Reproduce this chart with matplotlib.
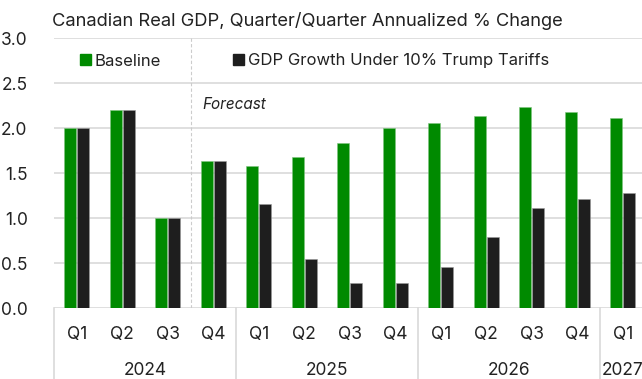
import matplotlib
matplotlib.use("Agg")
import matplotlib.pyplot as plt
from matplotlib.patches import Patch
import matplotlib.transforms as mtransforms
import numpy as np

plt.rcParams['font.family'] = ['Inter', 'DejaVu Sans']

quarters = ["Q1", "Q2", "Q3", "Q4", "Q1", "Q2", "Q3", "Q4", "Q1", "Q2", "Q3", "Q4", "Q1"]
years = ["2024", "2025", "2026", "2027"]
year_counts = [4, 4, 4, 1]
baseline = [2.00, 2.20, 1.00, 1.64, 1.58, 1.68, 1.84, 2.00, 2.06, 2.14, 2.24, 2.18, 2.11]
tariffs = [2.00, 2.20, 1.00, 1.64, 1.16, 0.55, 0.28, 0.28, 0.46, 0.79, 1.11, 1.22, 1.28]
yticks = [0.0, 0.5, 1.0, 1.5, 2.0, 2.5, 3.0]

W, H = 642, 379
fig = plt.figure(figsize=(W / 100, H / 100), dpi=100)
left, right, bottom, top = 54, 645.5, 308.3, 38.3
ax = fig.add_axes([left / W, 1 - bottom / H, (right - left) / W, (bottom - top) / H])

green = "#008a00"
dark = "#1e1e1e"
grid_c = "#d9d9d9"
txt_c = "#222222"
x = np.arange(len(quarters))
bw = 0.265
ax.bar(x - 0.145, baseline, bw, color=green, edgecolor="#7fc47f", linewidth=0.4, zorder=3)
ax.bar(x + 0.145, tariffs, bw, color=dark, edgecolor="#9a9a9a", linewidth=0.4, zorder=3)

ax.set_xlim(-0.5, len(quarters) - 0.5)
ax.set_ylim(0, 3.0)
ax.set_yticks(yticks)
ax.set_yticklabels([f"{v:.1f}" for v in yticks])
ax.yaxis.grid(True, color=grid_c, linewidth=1.2, zorder=0)
ax.set_axisbelow(True)
for s in ax.spines.values():
    s.set_visible(False)
ax.tick_params(axis='y', length=0, pad=19, labelsize=12.5, labelcolor=txt_c)
ax.set_xticks(x)
ax.set_xticklabels(quarters)
ax.tick_params(axis='x', length=0, pad=13, labelsize=12.5, labelcolor=txt_c)

# Forecast divider
ax.axvline(2.5, color="#cccccc", linestyle=(0, (3, 2)), linewidth=0.8, zorder=1)
ax.text(2.77, 2.26, "Forecast", fontsize=11, style='italic', color=txt_c, va='center', ha='left')

# group separators & year labels
trans = mtransforms.blended_transform_factory(ax.transData, ax.transAxes)
bottom_ax = -(H - bottom) / (bottom - top) - 0.02
start = -0.5
for yr, n in zip(years, year_counts):
    ax.plot([start, start], [0, bottom_ax], transform=trans, color=grid_c, linewidth=1.2, clip_on=False)
    ax.text(start + n / 2, -0.232, yr, transform=trans, ha='center', va='center', fontsize=12.5, color=txt_c)
    start += n

# title
fig.text(52 / W, 1 - 21.5 / H, "Canadian Real GDP, Quarter/Quarter Annualized % Change",
         fontsize=13.2, color=txt_c, ha='left', va='center')

# legend
handles = [Patch(color=green, label="Baseline"), Patch(color=dark, label="GDP Growth Under 10% Trump Tariffs")]
leg = fig.legend(handles=handles, loc='center left', bbox_to_anchor=(80 / W, 1 - 61 / H), ncol=2, frameon=False,
                 fontsize=12, handlelength=0.65, handleheight=0.65, handletextpad=0.25, columnspacing=4.3,
                 borderaxespad=0, borderpad=0)
for t in leg.get_texts():
    t.set_color(txt_c)

fig.savefig("out.png", dpi=100)
